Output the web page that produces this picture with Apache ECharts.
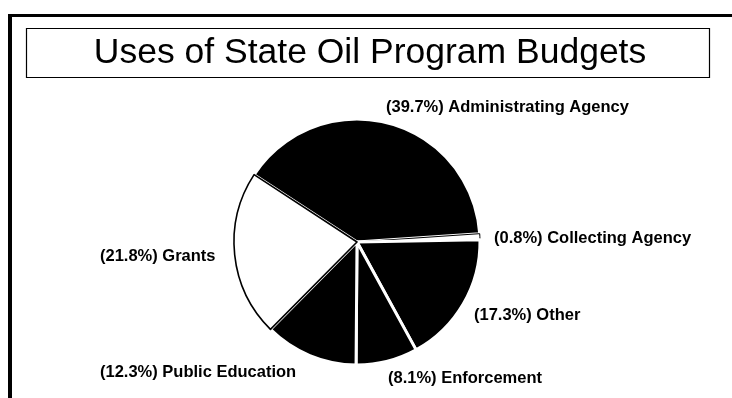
<!DOCTYPE html>
<html>
<head>
<meta charset="utf-8">
<script src="https://cdn.jsdelivr.net/npm/echarts@6/dist/echarts.min.js"></script>
<style>
  html, body { margin: 0; padding: 0; background: #fff; }
  #chart { width: 732px; height: 398px; }
</style>
</head>
<body>
<div id="chart"></div>
<script>
// Budget shares, listed clockwise starting with the administrating agency
const categories = ['Administrating Agency', 'Collecting Agency', 'Other', 'Enforcement', 'Public Education', 'Grants'];
const shares = [39.7, 0.8, 17.3, 8.1, 12.3, 21.8];
const titleText = 'Uses of State Oil Program Budgets';

// Label anchor points (left edge, vertical middle) for each slice
const labelAnchors = [
  [386, 107], [494, 238], [474, 315], [388, 378], [100, 372], [100, 256]
];

const FONT = '"Liberation Sans", Arial, Helvetica, sans-serif';

function sliceStyle(name) {
  if (name === 'Grants') {
    return { color: '#fff', borderColor: '#000', borderWidth: 1.6 };
  }
  if (name === 'Collecting Agency') {
    return { color: '#fff', borderColor: '#000', borderWidth: 1 };
  }
  return { color: '#000', borderColor: '#fff', borderWidth: 3 };
}

const pieData = categories.map((name, i) => ({
  name: name,
  value: shares[i],
  itemStyle: sliceStyle(name)
}));

const chart = echarts.init(document.getElementById('chart'), null, { renderer: 'canvas' });
chart.setOption({
  animation: false,
  backgroundColor: '#fff',
  graphic: [
    // outer frame: top rule and left rule
    { type: 'rect', shape: { x: 8, y: 14, width: 724, height: 3 }, style: { fill: '#000' }, silent: true },
    { type: 'rect', shape: { x: 8, y: 14, width: 4, height: 384 }, style: { fill: '#000' }, silent: true },
    // title box
    { type: 'rect', shape: { x: 26.5, y: 28.5, width: 683, height: 49 }, style: { fill: 'none', stroke: '#000', lineWidth: 1.2 }, silent: true },
    { type: 'text', x: 370, y: 53, style: { text: titleText, font: '35.5px ' + FONT, fill: '#000', textAlign: 'center', textVerticalAlign: 'middle' }, silent: true }
  ],
  series: [{
    type: 'pie',
    center: [357, 242],
    radius: 123,
    startAngle: 146.8,
    clockwise: true,
    silent: true,
    emphasis: { disabled: true },
    label: {
      show: true,
      position: 'outside',
      alignTo: 'none',
      overflow: 'none',
      formatter: p => '(' + p.value.toFixed(1) + '%) ' + p.name,
      fontFamily: FONT,
      fontWeight: 'bold',
      fontSize: 16.5,
      color: '#000'
    },
    labelLine: { show: false },
    labelLayout: params => ({
      x: labelAnchors[params.dataIndex][0],
      y: labelAnchors[params.dataIndex][1],
      align: 'left',
      verticalAlign: 'middle'
    }),
    data: pieData
  }]
});
</script>
</body>
</html>
